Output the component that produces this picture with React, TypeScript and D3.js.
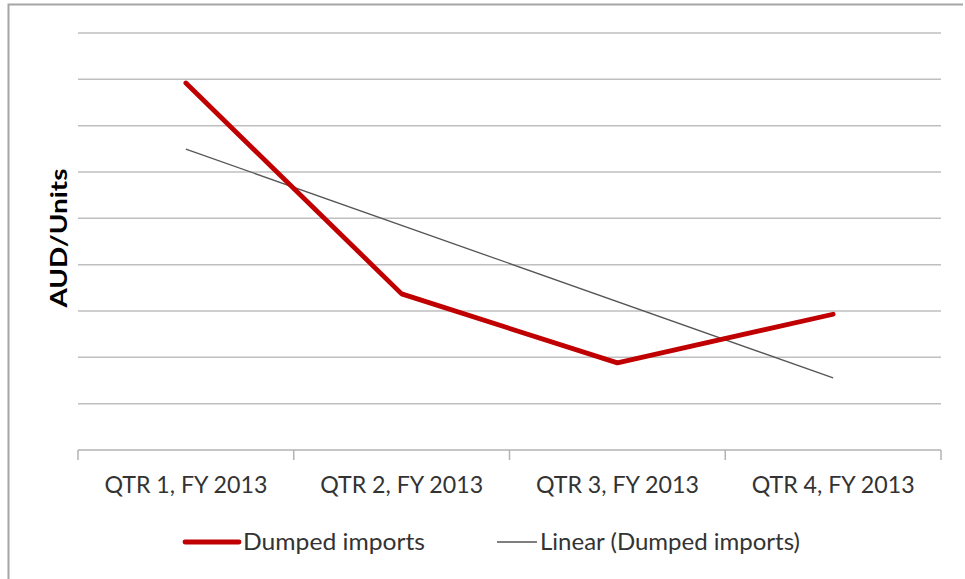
import React from "react";
import * as d3 from "d3";

// Quarterly average price of dumped imports (AUD/unit, relative scale)
const quarters = ["QTR 1, FY 2013", "QTR 2, FY 2013", "QTR 3, FY 2013", "QTR 4, FY 2013"];
const dumpedImports = [7.92, 3.37, 1.88, 2.93];
const yTicks = [0, 1, 2, 3, 4, 5, 6, 7, 8, 9];

const seriesLabel = "Dumped imports";
const trendLabel = "Linear (Dumped imports)";
const yTitle = "AUD/Units";

const W = 965;
const H = 579;
const FONT = "Lato, 'Open Sans', sans-serif";

// Ordinary least squares line over x = 1..n
function linearTrend(values: number[]): [number, number] {
  const n = values.length;
  const xs = values.map((_, i) => i + 1);
  const mx = d3.mean(xs)!;
  const my = d3.mean(values)!;
  let num = 0;
  let den = 0;
  xs.forEach((x, i) => {
    num += (x - mx) * (values[i] - my);
    den += (x - mx) * (x - mx);
  });
  const slope = num / den;
  const intercept = my - slope * mx;
  return [intercept + slope * 1, intercept + slope * n];
}

export default function App() {
  const left = 78;
  const right = 941;
  const top = 33;
  const bottom = 450;

  const x = d3.scaleBand<string>().domain(quarters).range([left, right]).padding(0);
  const y = d3.scaleLinear().domain([0, 9]).range([bottom, top]);
  const cx = (q: string) => (x(q) ?? 0) + x.bandwidth() / 2;

  const line = d3
    .line<number>()
    .x((_, i) => cx(quarters[i]))
    .y((d) => y(d));

  const [t0, t1] = linearTrend(dumpedImports);
  const tickXs = [...quarters.map((q) => x(q) ?? 0), right];

  return (
    <svg
      width={W}
      height={H}
      style={{ position: "absolute", left: 0, top: 0, background: "#fff" }}
      fontFamily={FONT}
    >
      {/* chart frame */}
      <path d={`M8.5,${H} L8.5,4.5 L${W - 2},4.5`} fill="none" stroke="#a6a6a6" strokeWidth={2} />

      {/* horizontal gridlines */}
      {yTicks.slice(1).map((t) => (
        <line key={t} x1={left} x2={right} y1={y(t)} y2={y(t)} stroke="#bfbfbf" strokeWidth={1.5} />
      ))}

      {/* category axis */}
      <line x1={left} x2={right} y1={bottom} y2={bottom} stroke="#b3b3b3" strokeWidth={1.5} />
      {tickXs.map((tx, i) => (
        <line key={i} x1={tx} x2={tx} y1={bottom} y2={bottom + 10} stroke="#b3b3b3" strokeWidth={1.5} />
      ))}
      {quarters.map((q) => (
        <text
          key={q}
          x={cx(q)}
          y={493}
          textAnchor="middle"
          fontSize={23}
          fill="#333"
          textLength={163}
          lengthAdjust="spacingAndGlyphs"
        >
          {q}
        </text>
      ))}

      {/* axis title */}
      <text
        transform={`translate(67,${238}) rotate(-90)`}
        textAnchor="middle"
        fontSize={23}
        fontWeight="bold"
        fill="#000"
        textLength={139}
        lengthAdjust="spacingAndGlyphs"
      >
        {yTitle}
      </text>

      {/* trendline */}
      <line
        x1={cx(quarters[0])}
        x2={cx(quarters[quarters.length - 1])}
        y1={y(t0)}
        y2={y(t1)}
        stroke="#555"
        strokeWidth={1.3}
      />

      {/* series */}
      <path d={line(dumpedImports) ?? ""} fill="none" stroke="#c00000" strokeWidth={4.8} strokeLinejoin="round" strokeLinecap="round" />

      {/* legend */}
      <line x1={185} x2={239} y1={542} y2={542} stroke="#c00000" strokeWidth={4.8} strokeLinecap="round" />
      <text x={243} y={550} fontSize={23} fill="#333" textLength={182} lengthAdjust="spacingAndGlyphs">
        {seriesLabel}
      </text>
      <line x1={497} x2={537} y1={542} y2={542} stroke="#555" strokeWidth={1.3} />
      <text x={540} y={550} fontSize={23} fill="#333" textLength={260} lengthAdjust="spacingAndGlyphs">
        {trendLabel}
      </text>
    </svg>
  );
}
